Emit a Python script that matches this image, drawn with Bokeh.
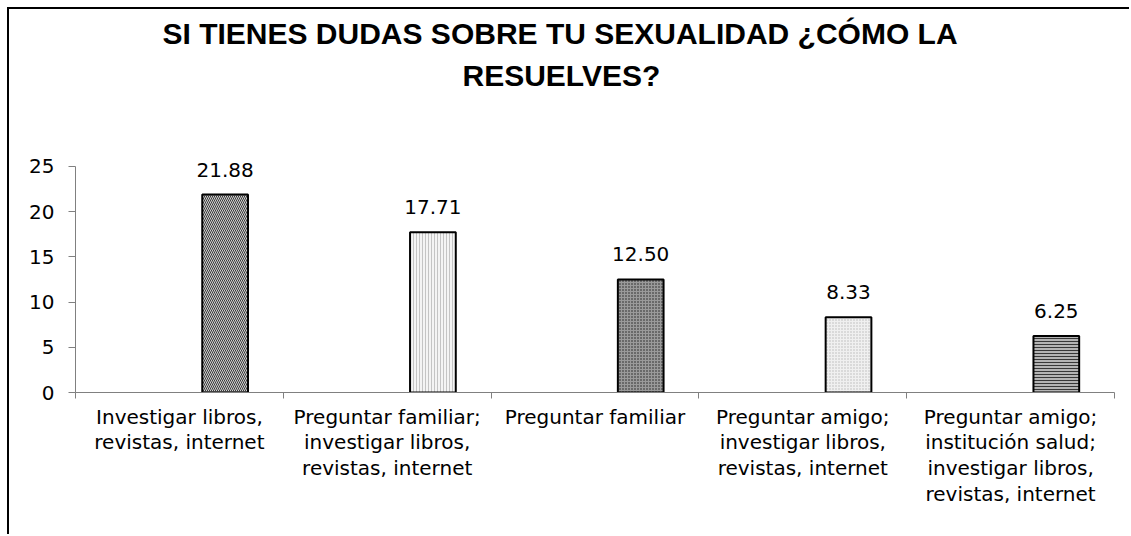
from bokeh.plotting import figure
from bokeh.models import ColumnDataSource, FixedTicker, Range1d, Title
from bokeh.transform import dodge
from bokeh.embed import file_html
from bokeh.resources import INLINE
from bokeh.core.properties import value

title_lines = ["SI TIENES DUDAS SOBRE TU SEXUALIDAD ¿CÓMO LA", "RESUELVES?"]
categories = [
    "Investigar libros,\nrevistas, internet",
    "Preguntar familiar;\ninvestigar libros,\nrevistas, internet",
    "Preguntar familiar",
    "Preguntar amigo;\ninvestigar libros,\nrevistas, internet",
    "Preguntar amigo;\ninstitución salud;\ninvestigar libros,\nrevistas, internet",
]
values = [21.88, 17.71, 12.50, 8.33, 6.25]
value_labels = ["21.88", "17.71", "12.50", "8.33", "6.25"]
y_ticks = [0, 5, 10, 15, 20, 25]

# styles (not data)
fills = ["#d0d0d0", "#f4f4f4", "#9a9a9a", "#f0f0f0", "#b4b4b4"]
hatches = ["\\", "|", ".", ".", "-"]
hatch_colors = ["#3a3a3a", "#c4c4c4", "#202020", "#b8b8b8", "#383838"]
hatch_scales = [4, 3, 3, 3, 3]

n = len(categories)
centers = [i + 0.5 for i in range(n)]
src = ColumnDataSource(dict(x=centers, top=values, lab=value_labels, fill=fills,
                            hatch=hatches, hcol=hatch_colors, hscale=hatch_scales))

FONT = "DejaVu Sans"
TFONT = "Liberation Sans"

p = figure(width=1122, height=527, output_backend="svg", toolbar_location=None,
           x_range=Range1d(0, n), y_range=Range1d(0, 32.5),
           min_border_left=66, min_border_right=17, min_border_top=89,
           min_border_bottom=144)
p.styles = {"margin-left": "7px", "margin-top": "7px",
            "border-top": "2px solid black", "border-left": "2px solid black"}
p.outline_line_color = None
p.grid.visible = False
p.background_fill_color = "white"
p.border_fill_color = "white"

p.vbar(x=dodge("x", 0.22, range=p.x_range), top="top", width=0.22, bottom=0, source=src,
       fill_color="fill", hatch_pattern="hatch", hatch_color="hcol", hatch_scale="hscale",
       hatch_weight=1, line_color="black", line_width=2)

p.text(x=dodge("x", 0.22, range=p.x_range), y="top", text="lab", source=src,
       text_font=value(FONT), text_font_size="20px", text_align="center",
       text_baseline="alphabetic", y_offset=-25, text_color="black")

# y axis
ya = p.yaxis[0]
ya.ticker = FixedTicker(ticks=y_ticks)
ya.bounds = (0, 25)
ya.axis_line_color = "#808080"
ya.major_tick_line_color = "#808080"
ya.major_tick_out = 7
ya.major_tick_in = 0
ya.minor_tick_line_color = None
ya.major_label_standoff = 14
ya.major_label_text_font = FONT
ya.major_label_text_font_size = "20px"
ya.major_label_text_color = "black"

# x axis: labels at centres, ticks at boundaries
xa = p.xaxis[0]
xa.ticker = FixedTicker(ticks=centers, minor_ticks=list(range(n + 1)))
xa.major_label_overrides = {c: lab for c, lab in zip(centers, categories)}
xa.axis_line_color = "#808080"
xa.major_tick_line_color = None
xa.major_tick_out = 6
xa.minor_tick_line_color = "#808080"
xa.minor_tick_out = 6
xa.minor_tick_in = 0
xa.major_label_standoff = 6
xa.major_label_text_font = FONT
xa.major_label_text_font_size = "20px"
xa.major_label_text_line_height = 1.07
xa.major_label_text_color = "black"

# title lines (second line nearest the plot)
offsets = [87, 387]
standoffs = [0, 14]
for t, off, so in reversed(list(zip(title_lines, offsets, standoffs))):
    p.add_layout(Title(text=t, align="left", offset=off, standoff=so,
                       text_font=TFONT, text_font_size="30px", text_font_style="bold",
                       text_color="black"), "above")

open("out.html", "w").write(file_html(p, INLINE))
